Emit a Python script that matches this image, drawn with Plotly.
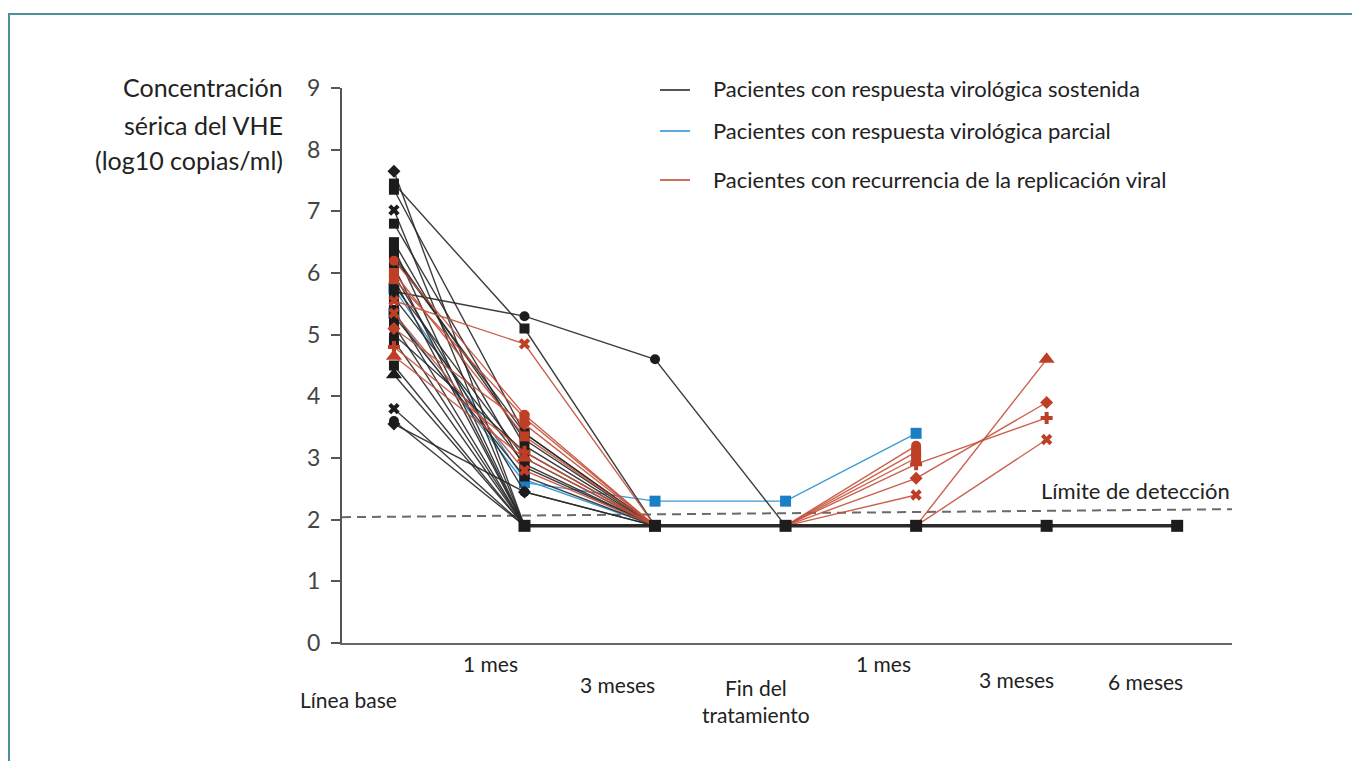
import plotly.graph_objects as go

# ---------------- data ----------------
time_index = [0, 1, 2, 3, 4, 5, 6]
time_labels = ["Línea base", "1 mes", "3 meses", "Fin del<br>tratamiento", "1 mes", "3 meses", "6 meses"]
label_x = [-0.35, 0.74, 1.71, 2.77, 3.75, 4.77, 5.76]
label_py = [699, 663, 684, 701, 663, 679, 681]

FLOOR = 1.9          # carga viral indetectable
deteccion_x = [-0.398, 6.42]
deteccion_y = [2.04, 2.17]

# Pacientes con respuesta virológica sostenida
sost_sym = ["diamond", "square", "square", "x", "square", "square", "square", "square", "circle",
            "square", "square", "circle", "square", "square", "square", "circle", "square", "square",
            "triangle-up", "x", "diamond", "circle", "square", "square", "circle"]
sost_base = [7.65, 7.45, 7.35, 7.02, 6.8, 6.5, 6.4, 6.25, 5.97, 5.9, 5.8, 5.7, 5.4, 5.3, 5.15,
             5.0, 4.9, 4.5, 4.35, 3.8, 3.55, 3.6, 6.1, 5.6, 6.3]
sost_1m = [1.9, 5.1, 3.4, 1.9, 3.2, 2.85, 1.9, 3.4, 2.45, 1.9, 3.0, 5.3, 1.9, 2.7, 1.9,
           3.1, 1.9, 1.9, 1.9, 1.9, 2.45, 1.9, 1.9, 2.9, 3.3]
sost_3m = [1.9, 1.9, 1.9, 1.9, 1.9, 1.9, 1.9, 1.9, 1.9, 1.9, 1.9, 4.6, 1.9, 1.9, 1.9,
           1.9, 1.9, 1.9, 1.9, 1.9, 1.9, 1.9, 1.9, 1.9, 1.9]
sost_fin = [1.9, 1.9, 1.9, 1.9, 1.9, 1.9, 1.9, 1.9, 1.9, 1.9, 1.9, 1.9, 1.9, 1.9, 1.9,
            1.9, 1.9, 1.9, 1.9, 1.9, 1.9, 1.9, 1.9, 1.9, 1.9]
sost_post = [1.9, 1.9, 1.9, 1.9, 1.9, 1.9, 1.9, 1.9, 1.9, 1.9, 1.9, 1.9, 1.9, 1.9, 1.9,
             1.9, 1.9, 1.9, 1.9, 1.9, 1.9, 1.9, 1.9, 1.9, 1.9]

# Pacientes con respuesta virológica parcial
parc_sym = ["square", "square"]
parc_base = [5.35, 5.75]
parc_1m = [2.6, 2.65]
parc_3m = [2.3, 1.9]
parc_fin = [2.3, None]
parc_p1 = [3.4, None]

# Pacientes con recurrencia de la replicación viral
rec_sym = ["x", "circle", "square", "triangle-up", "diamond", "cross", "x", "square"]
rec_base = [5.55, 6.2, 5.9, 4.65, 5.1, 4.8, 5.35, 6.0]
rec_1m = [4.85, 3.7, 3.65, 3.0, 3.55, 3.1, 2.8, 3.35]
rec_3m = [1.9, 1.9, 1.9, 1.9, 1.9, 1.9, 1.9, 1.9]
rec_fin = [1.9, 1.9, 1.9, 1.9, 1.9, 1.9, 1.9, 1.9]
rec_p1 = [2.4, 3.2, 3.1, 1.9, 2.67, 2.9, 1.9, 3.0]
rec_p3 = [None, None, None, 4.6, 3.9, 3.65, 3.3, None]

# umbral indetectable (línea gruesa)
floor_x = [1, 2, 3, 4, 5, 6]
floor_y = [1.9, 1.9, 1.9, 1.9, 1.9, 1.9]

legend_names = ["Pacientes con respuesta virológica sostenida",
                "Pacientes con respuesta virológica parcial",
                "Pacientes con recurrencia de la replicación viral"]

# ---------------- style ----------------
FONT = "Lato"
BLACK_LINE = "rgba(40,40,40,0.9)"
BLACK_MK = "#1c1c1c"
BLUE_LINE = "#3d9ad6"
BLUE_MK = "#1a7fc4"
RED_LINE = "rgba(196,80,58,0.9)"
RED_MK = "#bf3e26"

# plot area in screen pixels: x 342..1232, y 88..643 (page has 8px body margin)
PL, PT, PW, PH = 342, 88, 890, 555


def px(x):
    return (x - PL) / PW


def py(y):
    return (PT + PH - y) / PH


fig = go.Figure()


def add_patient(vals, sym, line_color, mk_color, size=10):
    xs, ys, syms, cols, sizes = [], [], [], [], []
    for t, v in zip(time_index, vals):
        if v is None:
            continue
        xs.append(t)
        ys.append(v)
        if v <= FLOOR:
            syms.append("square")
            cols.append(BLACK_MK)
            sizes.append(size)
        else:
            syms.append(sym)
            cols.append(mk_color)
            sizes.append(size + 4 if sym == "triangle-up" else size)
    fig.add_trace(go.Scatter(
        x=xs, y=ys, mode="lines+markers", showlegend=False, hoverinfo="skip",
        line=dict(color=line_color, width=1.4),
        marker=dict(symbol=syms, color=cols, size=sizes, opacity=1, line=dict(width=0)),
    ))


for i in range(len(parc_base)):
    vals = [parc_base[i], parc_1m[i], parc_3m[i], parc_fin[i], parc_p1[i], None, None]
    add_patient(vals, parc_sym[i], BLUE_LINE, BLUE_MK, size=11)

for i in range(len(sost_base)):
    vals = [sost_base[i], sost_1m[i], sost_3m[i], sost_fin[i], sost_post[i], sost_post[i], sost_post[i]]
    add_patient(vals, sost_sym[i], BLACK_LINE, BLACK_MK)

for i in range(len(rec_base)):
    vals = [rec_base[i], rec_1m[i], rec_3m[i], rec_fin[i], rec_p1[i], rec_p3[i], None]
    add_patient(vals, rec_sym[i], RED_LINE, RED_MK)

fig.add_trace(go.Scatter(
    x=floor_x, y=floor_y, mode="lines+markers", showlegend=False, hoverinfo="skip",
    line=dict(color="#2a2a2a", width=3.5),
    marker=dict(symbol="square", color=BLACK_MK, size=12, opacity=1),
))

shapes = []
shapes.append(dict(type="line", xref="x", yref="y",
                   x0=deteccion_x[0], x1=deteccion_x[1], y0=deteccion_y[0], y1=deteccion_y[1],
                   line=dict(color="#6a6a6a", width=2, dash="9px,6px"), layer="below"))
# frame (left and top edges visible)
shapes.append(dict(type="line", xref="paper", yref="paper", x0=px(9), x1=px(9), y0=py(14), y1=py(900),
                   line=dict(color="#4a9297", width=2)))
shapes.append(dict(type="line", xref="paper", yref="paper", x0=px(8), x1=px(1500), y0=py(14), y1=py(14),
                   line=dict(color="#4a9297", width=2)))

annotations = []
leg_cols = ["#555555", "#5aa9dc", "#cf6f5a"]
leg_py = [90, 131, 180]
for name, col, ly in zip(legend_names, leg_cols, leg_py):
    shapes.append(dict(type="line", xref="paper", yref="paper",
                       x0=px(660), x1=px(690), y0=py(ly), y1=py(ly),
                       line=dict(color=col, width=2)))
    annotations.append(dict(xref="paper", yref="paper", x=px(711), y=py(ly - 1),
                            xanchor="left", yanchor="middle", showarrow=False, text=name,
                            font=dict(family=FONT, size=22, color="#222222")))

for t, lx, ly in zip(time_labels, label_x, label_py):
    annotations.append(dict(xref="x", yref="paper", x=lx, y=py(ly), text=t, showarrow=False,
                            xanchor="center", yanchor="middle", align="center",
                            font=dict(family=FONT, size=21, color="#222222")))

for txt, ly in zip(["Concentración", "sérica del VHE", "(log10 copias/ml)"], [87, 125, 160]):
    annotations.append(dict(xref="paper", yref="paper", x=px(285), y=py(ly),
                            xanchor="right", yanchor="middle", showarrow=False, text=txt,
                            font=dict(family=FONT, size=25, color="#222222")))

annotations.append(dict(xref="x", yref="y", x=5.68, y=2.47, text="Límite de detección", showarrow=False,
                        xanchor="center", yanchor="middle",
                        font=dict(family=FONT, size=22, color="#222222")))

FIG_W, FIG_H = 1352, 753
fig.update_layout(
    width=FIG_W, height=FIG_H,
    margin=dict(l=PL - 8, r=FIG_W - (PL - 8) - PW, t=PT - 8, b=FIG_H - (PT - 8) - PH, pad=0),
    paper_bgcolor="white", plot_bgcolor="white",
    shapes=shapes, annotations=annotations,
    xaxis=dict(range=[-0.398, 6.42], showgrid=False, zeroline=False, showticklabels=False,
               ticks="", showline=True, linecolor="#666666", linewidth=2),
    yaxis=dict(range=[0, 9], tickvals=[0, 1, 2, 3, 4, 5, 6, 7, 8, 9], showgrid=False, zeroline=False,
               ticks="outside", ticklen=9, tickwidth=1.5, tickcolor="#555555",
               showline=True, linecolor="#555555", linewidth=2, ticklabelstandoff=6,
               tickfont=dict(family=FONT, size=23, color="#444444")),
    showlegend=False,
)

fig.write_html("out.html")
